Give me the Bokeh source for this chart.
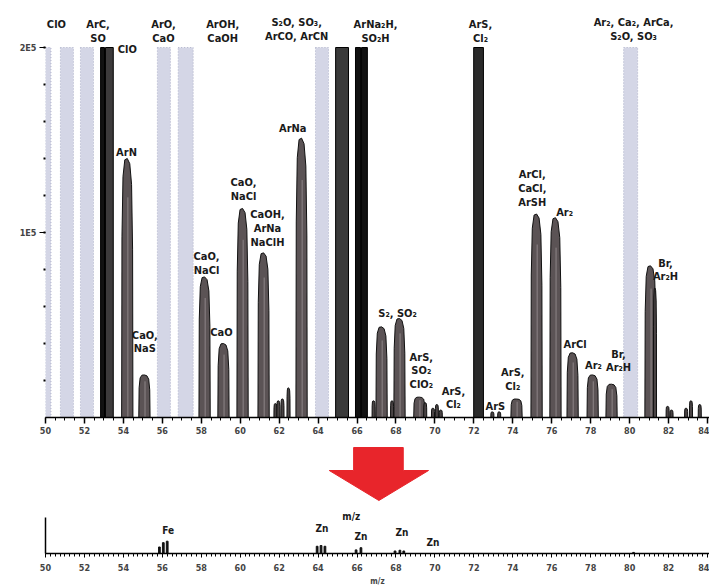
import numpy as np
from bokeh.plotting import figure
from bokeh.layouts import column
from bokeh.models import Range1d, FixedTicker, Label
from bokeh.core.properties import value
from bokeh.embed import file_html
from bokeh.resources import INLINE

FONT = "'Liberation Sans Narrow', 'DejaVu Sans Condensed', 'Liberation Sans', sans-serif"

# ---------------- data: panel a (counts) ----------------
peak_mass = [54.2, 55.08, 58.17, 59.14, 60.12, 61.2, 63.15, 67.26, 68.18, 69.2,
             74.19, 75.22, 76.19, 77.07, 78.1, 79.07, 81.07]
peak_height = [140000, 23000, 76000, 40000, 113000, 89000, 151000, 49000, 53500, 11000,
               10000, 110000, 108000, 35000, 23000, 18000, 82000]

minor_mass = [61.81, 61.96, 62.17, 62.48, 66.85, 67.8, 69.5, 69.9, 70.1, 70.3,
              72.95, 73.3, 81.3, 81.95, 82.15, 82.9, 83.15, 83.6]
minor_height = [7500, 9000, 10000, 16000, 9000, 9000, 8000, 5000, 7000, 4000,
                3000, 3000, 70000, 6000, 4000, 5000, 9000, 7000]

offscale_mass = [52.93, 53.28, 65.23, 66.05, 66.38, 72.24]
offscale_height = [200000, 200000, 200000, 200000, 200000, 200000]

band_mass = [50.13, 51.1, 52.13, 56.08, 57.2, 64.2, 80.05]
band_height = [200000, 200000, 200000, 200000, 200000, 200000, 200000]

labels_a = ["ClO", "ArC,\nSO", "ClO", "ArO,\nCaO", "ArOH,\nCaOH",
            "S\u2082O, SO\u2083,\nArCO, ArCN", "ArNa\u2082H,\nSO\u2082H", "ArS,\nCl\u2082",
            "Ar\u2082, Ca\u2082, ArCa,\nS\u2082O, SO\u2083",
            "ArN", "ArNa", "CaO,\nNaS", "CaO,\nNaCl", "CaO", "CaO,\nNaCl",
            "CaOH,\nArNa\nNaClH", "S\u2082, SO\u2082", "ArS,\nSO\u2082\nClO\u2082", "ArS,\nCl\u2082",
            "ArS", "ArS,\nCl\u2082", "ArCl,\nCaCl,\nArSH", "Ar\u2082", "ArCl", "Ar\u2082",
            "Br,\nAr\u2082H", "Br,\nAr\u2082H"]
labels_a_x = [50.56, 52.7, 54.2, 56.06, 59.1, 62.9, 66.95, 72.34, 80.2,
              54.16, 62.7, 55.1, 58.27, 59.04, 60.17, 61.4, 68.08, 69.3, 70.95,
              73.1, 74.0, 75.0, 76.66, 77.2, 78.14, 79.43, 81.84]
labels_a_top = [215700, 215700, 202700, 215700, 215700, 216800, 215700, 215700, 216800,
                146500, 159500, 48100, 90300, 49200, 130300, 113000, 60000, 36200, 17800,
                9200, 27600, 134600, 114100, 43200, 31400, 37800, 87000]

y_ticks_a = [100000, 200000]
y_tick_labels_a = {100000: "1E5", 200000: "2E5"}

# ---------------- data: panel b (relative) ----------------
b_mass = [55.85, 56.05, 56.25, 63.95, 64.15, 64.35, 65.95, 66.2, 67.95, 68.2, 68.4, 80.2]
b_height = [0.18, 0.30, 0.34, 0.20, 0.22, 0.20, 0.10, 0.16, 0.07, 0.09, 0.07, 0.03]
labels_b = ["Fe", "Zn", "Zn", "Zn", "Zn", "m/z"]
labels_b_x = [56.3, 64.2, 66.2, 68.3, 69.9, 65.7]
labels_b_top = [0.80, 0.83, 0.61, 0.72, 0.47, 1.17]

x_major = list(range(50, 86, 2))

W = 709
X_END = 84.1

# ---------------- panel a ----------------
pa = figure(width=W, height=442, output_backend="svg", toolbar_location=None,
            x_range=Range1d(50, X_END), y_range=Range1d(0, 220000),
            min_border_left=45, min_border_right=0, min_border_top=10, min_border_bottom=25)
pa.outline_line_color = None
pa.grid.visible = False

# interference bands
band_w = [0.3, 0.67, 0.67, 0.67, 0.77, 0.67, 0.72]
pa.vbar(x=band_mass, top=band_height, bottom=0, width=band_w,
        fill_color="#d4d6e6", line_color="#aeb1c9", line_width=1, line_dash="1 2")

# off-scale peaks
off_w = [0.2, 0.4, 0.66, 0.26, 0.3, 0.5]
off_fill = ["#111111", "#3c3a3b", "#3a3a3a", "#111111", "#111111", "#2a2a2a"]
pa.vbar(x=offscale_mass, top=offscale_height, bottom=0, width=off_w,
        fill_color=off_fill, line_color="#000000", line_width=1)


def peak_shape(c, h, w):
    fx = np.array([-0.5, -0.47, -0.38, -0.22, 0.0, 0.22, 0.38, 0.47, 0.5])
    fy = np.array([0.0, 0.7, 0.93, 0.995, 1.0, 0.98, 0.9, 0.65, 0.0])
    return list(c + w * fx), list(h * fy)


xs, ys = [], []
for c, h in zip(peak_mass, peak_height):
    a, b = peak_shape(c, h, 0.58)
    xs.append(a)
    ys.append(b)
pa.patches(xs, ys, fill_color="#5b5355", line_color="#111111", line_width=1)
pa.segment(x0=[m + 0.03 for m in peak_mass], y0=[0] * len(peak_mass),
           x1=[m + 0.03 for m in peak_mass], y1=[h * 0.85 for h in peak_height],
           line_color="#8d8587", line_width=1)

xs2, ys2 = [], []
for c, h in zip(minor_mass, minor_height):
    a, b = peak_shape(c, h, 0.16)
    xs2.append(a)
    ys2.append(b)
pa.patches(xs2, ys2, fill_color="#4a4445", line_color="#111111", line_width=1)

pa.text(x=labels_a_x, y=labels_a_top, text=labels_a, text_font=value(FONT),
        text_font_style="bold", text_font_size="11px", text_align="center",
        text_baseline="top", text_line_height=1.05, text_color="#1a1a1a")

pa.xaxis.ticker = FixedTicker(ticks=x_major,
                              minor_ticks=[50 + 0.5 * i for i in range(0, 69)])
pa.xaxis.major_tick_in = 0
pa.xaxis.major_tick_out = 6
pa.xaxis.minor_tick_in = 0
pa.xaxis.minor_tick_out = 3
pa.xaxis.axis_line_width = 1.5
pa.xaxis.major_tick_line_width = 1.5
pa.xaxis.major_label_text_font = FONT
pa.xaxis.major_label_text_font_style = "bold"
pa.xaxis.major_label_text_font_size = "9px"
pa.xaxis.major_label_standoff = 3

pa.yaxis.ticker = FixedTicker(ticks=y_ticks_a,
                              minor_ticks=[20000 * i for i in range(1, 11)])
pa.yaxis.major_label_overrides = y_tick_labels_a
pa.yaxis.axis_line_color = None
pa.yaxis.major_tick_in = 0
pa.yaxis.major_tick_out = 6
pa.yaxis.minor_tick_in = 0
pa.yaxis.minor_tick_out = 2
pa.yaxis.minor_tick_line_width = 2
pa.yaxis.major_label_text_font = FONT
pa.yaxis.major_label_text_font_style = "bold"
pa.yaxis.major_label_text_font_size = "9px"
pa.yaxis.major_label_standoff = 3

pa.add_layout(Label(x=48.3, y=210000, text="a", text_font=FONT, text_font_style="bold",
                    text_font_size="15px", text_baseline="middle"))

# ---------------- arrow (page pixel space) ----------------
arr = figure(width=W, height=62, output_backend="svg", toolbar_location=None,
             x_range=Range1d(0, W), y_range=Range1d(0, 62),
             min_border=0, x_axis_type=None, y_axis_type=None)
arr.outline_line_color = None
arr.grid.visible = False
arr.patch(x=[329, 382, 382, 409, 356, 303, 329],
          y=[57, 57, 34, 34, 4, 34, 34],
          fill_color="#e8252b", line_color="#e8252b")

# ---------------- panel b ----------------
pb = figure(width=W, height=84, output_backend="svg", toolbar_location=None,
            x_range=Range1d(50, X_END), y_range=Range1d(0, 1.3),
            min_border_left=45, min_border_right=0, min_border_top=2, min_border_bottom=35)
pb.outline_line_color = None
pb.grid.visible = False
pb.vbar(x=b_mass, top=b_height, bottom=0, width=0.09, fill_color="#111111",
        line_color="#111111")
pb.text(x=labels_b_x, y=labels_b_top, text=labels_b, text_font=value(FONT),
        text_font_style="bold", text_font_size="10px", text_align="center",
        text_baseline="top", text_color="#1a1a1a")

pb.xaxis.ticker = FixedTicker(ticks=x_major,
                              minor_ticks=[50 + 0.25 * i for i in range(0, 137)])
pb.xaxis.major_tick_in = 0
pb.xaxis.major_tick_out = 4
pb.xaxis.minor_tick_in = 0
pb.xaxis.minor_tick_out = 3
pb.xaxis.axis_line_width = 1.5
pb.xaxis.major_label_text_font = FONT
pb.xaxis.major_label_text_font_style = "bold"
pb.xaxis.major_label_text_font_size = "9px"
pb.xaxis.major_label_standoff = 6
pb.xaxis.axis_label = "m/z"
pb.xaxis.axis_label_text_font = FONT
pb.xaxis.axis_label_text_font_size = "8px"
pb.xaxis.axis_label_text_font_style = "bold"
pb.xaxis.axis_label_standoff = 3

pb.yaxis.ticker = FixedTicker(ticks=[])
pb.yaxis.bounds = (0, 1)
pb.yaxis.major_label_text_font_size = "0px"
pb.yaxis.axis_line_width = 1.5

pb.add_layout(Label(x=48.3, y=0.9, text="b", text_font=FONT, text_font_style="bold",
                    text_font_size="15px", text_baseline="middle"))

layout = column(pa, arr, pb, spacing=0)
open("out.html", "w").write(file_html(layout, INLINE))
